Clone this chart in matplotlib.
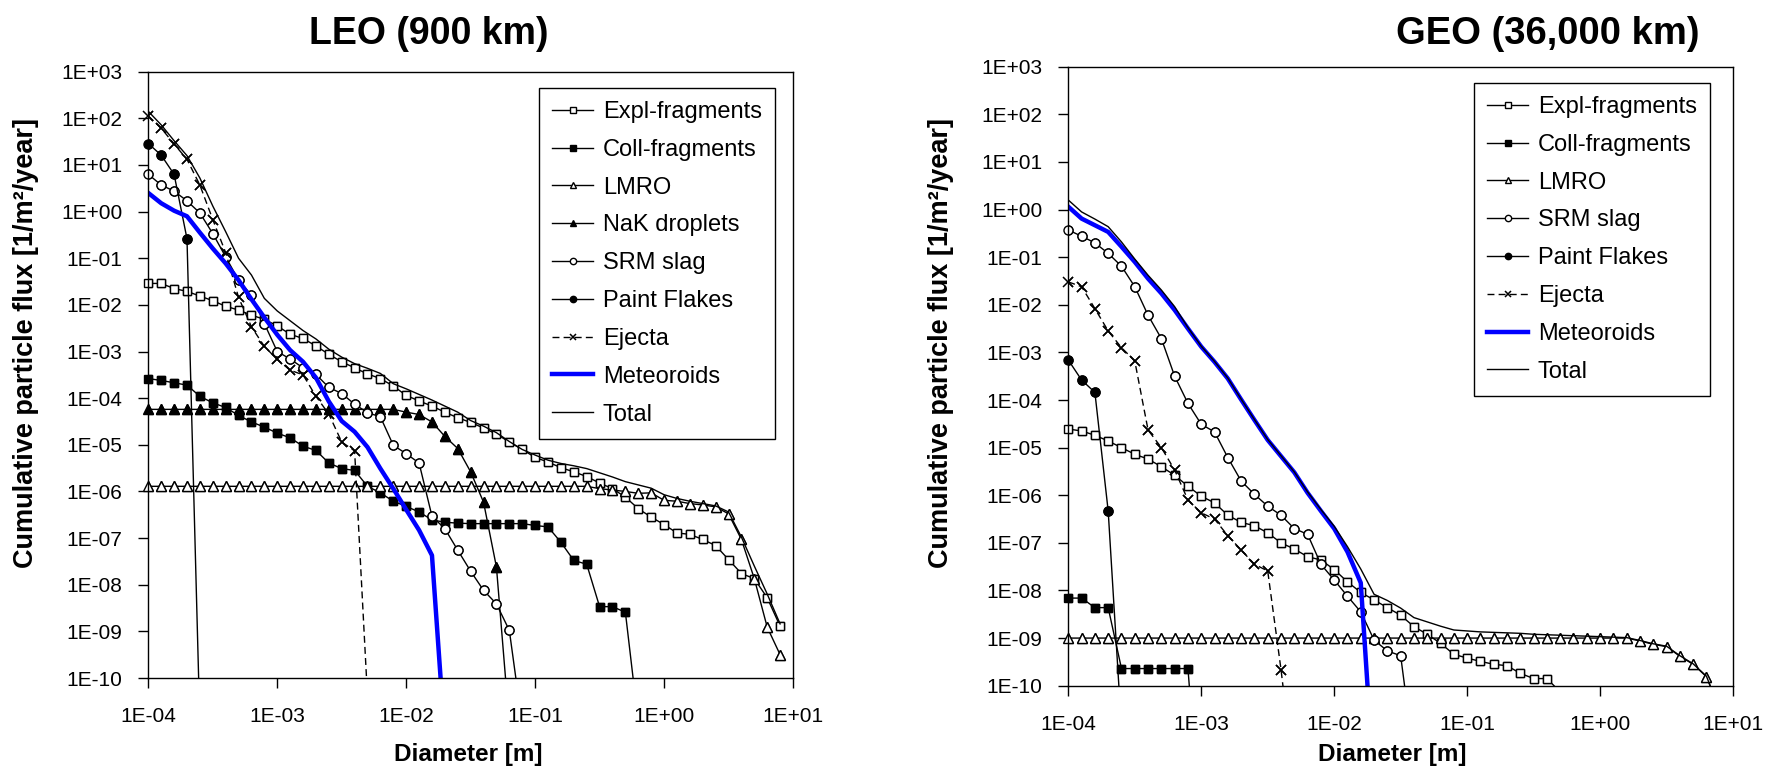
import numpy as np
import matplotlib
matplotlib.use('Agg')
import matplotlib.pyplot as plt
from matplotlib.ticker import FixedLocator, FuncFormatter, NullLocator

plt.rcParams['font.family'] = ['Liberation Sans', 'DejaVu Sans']

# --- Dados: expoentes log10 (diâmetro a cada 0.1 década) ---
DIAM_EXP = [-4.0, -3.9, -3.8, -3.7, -3.6, -3.5, -3.4, -3.3, -3.2, -3.1,
            -3.0, -2.9, -2.8, -2.7, -2.6, -2.5, -2.4, -2.3, -2.2, -2.1,
            -2.0, -1.9, -1.8, -1.7, -1.6, -1.5, -1.4, -1.3, -1.2, -1.1,
            -1.0, -0.9, -0.8, -0.7, -0.6, -0.5, -0.4, -0.3, -0.2, -0.1,
            0.0, 0.1, 0.2, 0.3, 0.4, 0.5, 0.6, 0.7, 0.8, 0.9, 1.0]

SERIES = ['Expl-fragments', 'Coll-fragments', 'LMRO', 'NaK droplets', 'SRM slag',
          'Paint Flakes', 'Ejecta', 'Meteoroids', 'Total']

# LEO (900 km) - log10 do fluxo
leo_expl = [-1.54, -1.54, -1.65, -1.71, -1.81, -1.91, -2.03, -2.11, -2.22, -2.31,
            -2.45, -2.63, -2.72, -2.88, -3.06, -3.22, -3.35, -3.48, -3.58, -3.74,
            -3.94, -4.06, -4.17, -4.30, -4.42, -4.52, -4.64, -4.77, -4.94, -5.10,
            -5.27, -5.37, -5.49, -5.58, -5.68, -5.82, -5.94, -6.12, -6.37, -6.55,
            -6.71, -6.89, -6.92, -7.03, -7.16, -7.46, -7.76, -7.87, -8.28, -8.89]
leo_coll = [-3.58, -3.62, -3.67, -3.72, -3.96, -4.10, -4.20, -4.37, -4.51, -4.62,
            -4.75, -4.85, -5.03, -5.12, -5.39, -5.51, -5.55, -5.89, -6.03, -6.21,
            -6.32, -6.44, -6.61, -6.66, -6.68, -6.69, -6.69, -6.69, -6.69, -6.69,
            -6.73, -6.76, -7.09, -7.48, -7.56, -8.47, -8.47, -8.59, -10.95]
leo_lmro = [-5.89, -5.89, -5.89, -5.89, -5.89, -5.89, -5.89, -5.89, -5.89, -5.89,
            -5.89, -5.89, -5.89, -5.89, -5.89, -5.89, -5.89, -5.89, -5.89, -5.89,
            -5.89, -5.89, -5.89, -5.89, -5.89, -5.89, -5.89, -5.89, -5.89, -5.89,
            -5.89, -5.89, -5.89, -5.89, -5.89, -5.94, -5.97, -6.00, -6.04, -6.03,
            -6.19, -6.21, -6.26, -6.29, -6.33, -6.48, -7.03, -7.87, -8.91, -9.50]
leo_nak = [-4.24, -4.24, -4.24, -4.24, -4.24, -4.24, -4.24, -4.24, -4.24, -4.24,
           -4.24, -4.24, -4.24, -4.24, -4.24, -4.24, -4.24, -4.24, -4.24, -4.24,
           -4.30, -4.35, -4.51, -4.82, -5.08, -5.58, -6.23, -7.62, -11.0]
leo_srm = [0.80, 0.57, 0.44, 0.23, -0.03, -0.47, -0.97, -1.47, -1.79, -2.40,
           -3.00, -3.16, -3.35, -3.49, -3.77, -3.90, -4.13, -4.31, -4.40, -5.01,
           -5.19, -5.39, -6.53, -6.80, -7.26, -7.71, -8.12, -8.41, -8.98, -11.0]
leo_paint = [1.46, 1.21, 0.80, -0.58, -11.0]
leo_ejecta = [2.05, 1.79, 1.45, 1.12, 0.57, -0.17, -0.88, -1.84, -2.47, -2.89,
              -3.17, -3.40, -3.50, -3.96, -4.34, -4.94, -5.13, -10.4]
leo_meteor = [0.40, 0.18, 0.02, -0.10, -0.45, -0.79, -1.11, -1.47, -1.88, -2.27,
              -2.64, -2.97, -3.22, -3.56, -4.07, -4.49, -4.72, -5.05, -5.51, -5.94,
              -6.39, -6.83, -7.37, -11.3]
leo_total = [2.15, 1.86, 1.52, 1.20, 0.72, 0.12, -0.43, -1.00, -1.36, -1.86,
             -2.13, -2.34, -2.55, -2.73, -2.95, -3.12, -3.26, -3.36, -3.47, -3.69,
             -3.80, -3.92, -4.04, -4.17, -4.30, -4.48, -4.60, -4.74, -4.93, -5.10,
             -5.22, -5.33, -5.40, -5.45, -5.51, -5.60, -5.69, -5.79, -5.86, -5.93,
             -6.07, -6.15, -6.21, -6.26, -6.31, -6.44, -6.98, -7.60, -8.20, -8.84]

# GEO (36,000 km) - log10 do fluxo
geo_expl = [-4.61, -4.65, -4.74, -4.86, -5.00, -5.14, -5.24, -5.40, -5.58, -5.81,
            -6.02, -6.16, -6.42, -6.57, -6.64, -6.79, -7.00, -7.13, -7.29, -7.36,
            -7.56, -7.82, -8.04, -8.20, -8.36, -8.52, -8.76, -8.92, -9.11, -9.34,
            -9.42, -9.49, -9.55, -9.58, -9.74, -9.85, -9.85, -10.13]
geo_coll = [-8.16, -8.16, -8.36, -8.36, -9.64, -9.64, -9.64, -9.64, -9.64, -9.64, -13.2]
geo_lmro = [-9.00, -9.00, -9.00, -9.00, -9.00, -9.00, -9.00, -9.00, -9.00, -9.00,
            -9.00, -9.00, -9.00, -9.00, -9.00, -9.00, -9.00, -9.00, -9.00, -9.00,
            -9.00, -9.00, -9.00, -9.00, -9.00, -9.00, -9.00, -9.00, -9.00, -9.00,
            -9.00, -9.00, -9.00, -9.00, -9.00, -9.00, -9.00, -9.00, -9.00, -9.00,
            -9.00, -9.00, -9.00, -9.06, -9.13, -9.18, -9.38, -9.55, -9.81, -10.5]
geo_srm = [-0.43, -0.56, -0.70, -0.92, -1.19, -1.62, -2.22, -2.71, -3.50, -4.07,
           -4.51, -4.67, -5.21, -5.70, -5.98, -6.23, -6.42, -6.70, -6.82, -7.45,
           -7.78, -8.12, -8.45, -9.04, -9.27, -9.37, -11.5]
geo_paint = [-3.16, -3.58, -3.84, -6.33, -10.9]
geo_ejecta = [-1.52, -1.62, -2.08, -2.55, -2.90, -3.18, -4.63, -5.00, -5.47, -6.10,
              -6.37, -6.50, -6.85, -7.15, -7.45, -7.59, -9.66, -12.0]
geo_meteor = [0.06, -0.19, -0.33, -0.47, -0.78, -1.10, -1.45, -1.76, -2.11, -2.50,
              -2.88, -3.20, -3.55, -3.99, -4.42, -4.84, -5.18, -5.52, -5.95, -6.33,
              -6.70, -7.19, -7.84, -12.1]
geo_total = [0.20, -0.05, -0.20, -0.36, -0.68, -1.04, -1.38, -1.69, -2.04, -2.48,
             -2.87, -3.19, -3.54, -3.98, -4.41, -4.83, -5.17, -5.51, -5.93, -6.30,
             -6.65, -7.08, -7.55, -8.08, -8.21, -8.37, -8.57, -8.66, -8.75, -8.83,
             -8.85, -8.87, -8.88, -8.89, -8.90, -8.92, -8.93, -8.94, -8.95, -8.96,
             -8.97, -8.98, -8.99, -9.05, -9.12, -9.17, -9.37, -9.54, -9.80, -10.5]

Y_TICKS = [1e-10, 1e-9, 1e-8, 1e-7, 1e-6, 1e-5, 1e-4, 1e-3, 1e-2, 1e-1, 1e0, 1e1, 1e2, 1e3]
X_TICKS = [1e-4, 1e-3, 1e-2, 1e-1, 1e0, 1e1]

# --- Estilos ---
ESTILOS = {
    'Expl-fragments': dict(color='black', lw=1.0, marker='s', ms=6, mfc='white', mec='black', mew=1.0),
    'Coll-fragments': dict(color='black', lw=1.0, marker='s', ms=6, mfc='black', mec='black', mew=1.0),
    'LMRO': dict(color='black', lw=1.0, marker='^', ms=7, mfc='white', mec='black', mew=1.0),
    'NaK droplets': dict(color='black', lw=1.0, marker='^', ms=7, mfc='black', mec='black', mew=1.0),
    'SRM slag': dict(color='black', lw=1.0, marker='o', ms=6.5, mfc='white', mec='black', mew=1.0),
    'Paint Flakes': dict(color='black', lw=1.0, marker='o', ms=6.5, mfc='black', mec='black', mew=1.0),
    'Ejecta': dict(color='black', lw=1.0, marker='x', ms=7, mew=1.1, dashes=(5, 3)),
    'Meteoroids': dict(color='#0000FF', lw=3.2),
    'Total': dict(color='black', lw=1.0),
}


def fmt_exp(v, pos):
    return f'{v:.0E}'


def desenhar(ax, dados, leg_pos, fig):
    handles = []
    for nome, vals in dados:
        x = np.power(10.0, DIAM_EXP[:len(vals)])
        y = np.power(10.0, vals)
        st = ESTILOS[nome]
        ln, = ax.plot(x, y, label=nome, **st)
        handles.append(ln)
        if 'marker' in st:
            # marcadores sobre os eixos não cortados
            dentro = y >= 1e-10
            st2 = {k: v for k, v in st.items() if k not in ('lw', 'dashes')}
            ax.plot(x[dentro], y[dentro], ls='none', clip_on=False, **st2)

    ax.set_xscale('log')
    ax.set_yscale('log')
    ax.set_xlim(1e-4, 1e1)
    ax.set_ylim(1e-10, 1e3)
    ax.xaxis.set_major_locator(FixedLocator(X_TICKS))
    ax.yaxis.set_major_locator(FixedLocator(Y_TICKS))
    ax.xaxis.set_minor_locator(NullLocator())
    ax.yaxis.set_minor_locator(NullLocator())
    ax.xaxis.set_major_formatter(FuncFormatter(fmt_exp))
    ax.yaxis.set_major_formatter(FuncFormatter(fmt_exp))
    ax.tick_params(axis='both', direction='out', length=7, width=1.0, labelsize=15)
    ax.tick_params(axis='x', pad=14)
    ax.tick_params(axis='y', pad=11.5)
    for sp in ax.spines.values():
        sp.set_linewidth(1.0)

    leg = ax.legend(handles=handles, loc='upper left',
                    bbox_to_anchor=(leg_pos[0] / 1770, 1 - leg_pos[1] / 778),
                    bbox_transform=fig.transFigure, borderaxespad=0,
                    fontsize=17, frameon=True, fancybox=False, framealpha=1,
                    edgecolor='black', markerscale=0.7, handlelength=1.75,
                    handletextpad=0.4, labelspacing=0.67, borderpad=0.55)
    leg.get_frame().set_linewidth(1.0)


fig = plt.figure(figsize=(17.7, 7.78), dpi=100)
ax1 = fig.add_axes([148.3 / 1770, 1 - 678 / 778, (793 - 148.3) / 1770, (678 - 71.7) / 778])
ax2 = fig.add_axes([1068.3 / 1770, 1 - 685.7 / 778, (1733 - 1068.3) / 1770, (685.7 - 66.7) / 778])

dados_leo = list(zip(SERIES, [leo_expl, leo_coll, leo_lmro, leo_nak, leo_srm,
                              leo_paint, leo_ejecta, leo_meteor, leo_total]))
dados_geo = list(zip([s for s in SERIES if s != 'NaK droplets'],
                     [geo_expl, geo_coll, geo_lmro, geo_srm, geo_paint,
                      geo_ejecta, geo_meteor, geo_total]))

desenhar(ax1, dados_leo, (539, 88), fig)
desenhar(ax2, dados_geo, (1474, 83), fig)

# Títulos e rótulos
fig.text(429 / 1770, 1 - 34 / 778, 'LEO (900 km)', ha='center', va='center', fontsize=27, fontweight='bold')
fig.text(1548 / 1770, 1 - 34 / 778, 'GEO (36,000 km)', ha='center', va='center', fontsize=27.5, fontweight='bold')
for xc in (468, 1392):
    fig.text(xc / 1770, 1 - 754 / 778, 'Diameter [m]', ha='center', va='center', fontsize=17.5, fontweight='bold')
for xc in (26.5, 941):
    fig.text(xc / 1770, 1 - 343 / 778, 'Cumulative particle flux [1/m²/year]', ha='center', va='center',
             rotation=90, fontsize=19.5, fontweight='bold')

plt.savefig('out.png', dpi=100, facecolor='white')
